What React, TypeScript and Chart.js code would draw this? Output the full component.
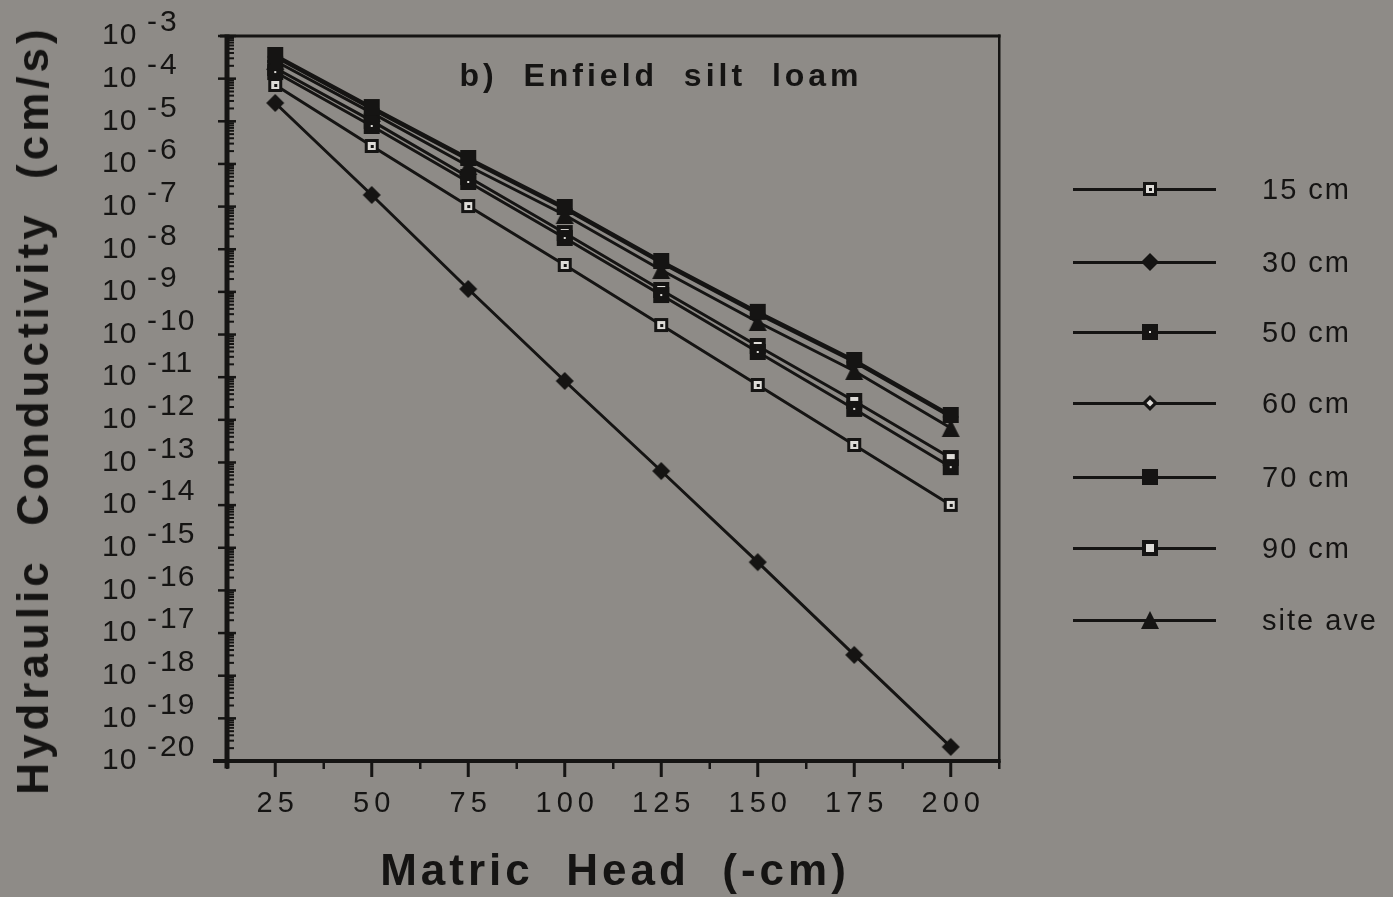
import React, { useEffect, useMemo, useRef } from "react";
import { Chart, registerables } from "chart.js";

Chart.register(...registerables);

// ---------------- data ----------------
const matricHead = [25, 50, 75, 100, 125, 150, 175, 200];
const k15cm = [7.1e-5, 2.64e-6, 1.03e-7, 4.28e-9, 1.67e-10, 6.56e-12, 2.57e-13, 1.01e-14];
const k30cm = [2.69e-5, 1.87e-7, 1.17e-9, 8.15e-12, 6.3e-14, 4.6e-16, 3.07e-18, 2.14e-20];
const k50cm = [1.43e-4, 7.76e-6, 3.78e-7, 1.84e-8, 8.45e-10, 3.9e-11, 1.8e-12, 7.8e-14];
const k60cm = [3.25e-4, 1.95e-5, 1.24e-6, 8.8e-8, 4.8e-9, 3.05e-10, 2.27e-11, 1.17e-12];
const k70cm = [3.59e-4, 2.16e-5, 1.38e-6, 9.8e-8, 5.3e-9, 3.4e-10, 2.53e-11, 1.3e-12];
const k90cm = [1.78e-4, 1.02e-5, 4.94e-7, 2.4e-8, 1.11e-9, 5.4e-11, 2.77e-12, 1.27e-13];
const kSiteAve = [2.59e-4, 1.57e-5, 8.95e-7, 6.35e-8, 3.26e-9, 1.97e-10, 1.4e-11, 6.44e-13];

const seriesLabels = ["15 cm", "30 cm", "50 cm", "60 cm", "70 cm", "90 cm", "site ave"];
const seriesMarkers = ["dotSquare", "diamond", "solidDotSquare", "openDiamond", "solidSquare", "openSquare", "triangle"];
const seriesOrder = [3, 6, 4, 2, 0, 5, 1];

const xTickLabels = [25, 50, 75, 100, 125, 150, 175, 200];
const yDecadeExponents = [-3, -4, -5, -6, -7, -8, -9, -10, -11, -12, -13, -14, -15, -16, -17, -18, -19, -20];

const title = "b)  Enfield  silt  loam";
const xTitle = "Matric  Head  (-cm)";
const yTitle = "Hydraulic  Conductivity  (cm/s)";

// ---------------- style ----------------
const BG = "#8e8b87";
const INK = "#151413";
const LIGHT = "#dedcd8";
const FONT = "'Liberation Sans', Arial, Helvetica, sans-serif";

function makeMarker(kind: string): HTMLCanvasElement {
  const c = document.createElement("canvas");
  c.width = 20;
  c.height = 20;
  const g = c.getContext("2d")!;
  g.fillStyle = INK;
  const diamond = (cx: number, cy: number, r: number) => {
    g.beginPath();
    g.moveTo(cx, cy - r);
    g.lineTo(cx + r, cy);
    g.lineTo(cx, cy + r);
    g.lineTo(cx - r, cy);
    g.closePath();
    g.fill();
  };
  switch (kind) {
    case "dotSquare":
      g.fillRect(3, 3, 14, 14);
      g.fillStyle = LIGHT;
      g.fillRect(6, 6, 8, 8);
      g.fillStyle = INK;
      g.fillRect(9, 9, 3, 3);
      break;
    case "diamond":
      diamond(10, 10, 9);
      break;
    case "solidDotSquare":
      g.fillRect(2, 2, 16, 16);
      g.fillStyle = LIGHT;
      g.fillRect(9, 9, 2, 2);
      break;
    case "openDiamond":
      diamond(10, 10, 8);
      g.fillStyle = LIGHT;
      diamond(10, 10, 3.5);
      break;
    case "solidSquare":
      g.fillRect(2, 2, 16, 16);
      break;
    case "openSquare":
      g.fillRect(2, 2, 16, 16);
      g.fillStyle = LIGHT;
      g.fillRect(6, 6, 8, 8);
      break;
    case "triangle":
      g.beginPath();
      g.moveTo(10, 1);
      g.lineTo(19, 19);
      g.lineTo(1, 19);
      g.closePath();
      g.fill();
      break;
  }
  return c;
}

const framePlugin = {
  id: "framePlugin",
  beforeDatasetsDraw(chart: any) {
    const { ctx, chartArea: a, scales } = chart;
    const x = scales.x;
    const y = scales.y;
    ctx.save();
    ctx.fillStyle = INK;
    // frame
    ctx.fillRect(a.left - 7, a.top - 1.5, a.right - a.left + 8.5, 3);
    ctx.fillRect(a.right - 1, a.top - 1.5, 2.5, a.bottom - a.top + 3);
    ctx.fillRect(a.left - 14, a.bottom - 2, a.right - a.left + 15.5, 4);
    ctx.fillRect(a.left - 2.5, a.top - 1.5, 5, a.bottom - a.top + 9);

    // x ticks (major at labels, minor between)
    const step = xTickLabels[1] - xTickLabels[0];
    for (let v = xTickLabels[0] - step / 2; v <= xTickLabels[xTickLabels.length - 1] + step / 2 + 0.01; v += step / 2) {
      const px = x.getPixelForValue(v);
      const major = xTickLabels.includes(v);
      if (major) ctx.fillRect(px - 1.5, a.bottom, 3, 16);
      else ctx.fillRect(px - 1, a.bottom, 2.5, 8);
    }
    // y ticks
    for (const e of yDecadeExponents) {
      const py = y.getPixelForValue(Math.pow(10, e));
      ctx.fillRect(a.left - 9, py - 1.25, 18, 2.5);
      if (e > yDecadeExponents[yDecadeExponents.length - 1]) {
        for (let m = 2; m <= 9; m++) {
          const pm = y.getPixelForValue(m * Math.pow(10, e - 1));
          ctx.fillRect(a.left, pm - 1, 7, 2);
        }
      }
    }

    // x tick labels
    ctx.font = `29px ${FONT}`;
    (ctx as any).letterSpacing = "5px";
    ctx.textAlign = "center";
    ctx.textBaseline = "middle";
    for (const v of xTickLabels) {
      ctx.fillText(String(v), x.getPixelForValue(v) + 2.5, a.bottom + 43);
    }
    // y tick labels: 10 with raised exponent
    ctx.font = `30px ${FONT}`;
    (ctx as any).letterSpacing = "1px";
    ctx.textAlign = "left";
    for (const e of yDecadeExponents) {
      const py = y.getPixelForValue(Math.pow(10, e));
      ctx.fillText("10", 102, py);
      ctx.fillText("-", 147, py - 13);
      ctx.fillText(String(-e), 160, py - 13);
    }
    ctx.restore();
  },
};

export default function App() {
  const canvasRef = useRef<HTMLCanvasElement | null>(null);
  const markerUrls = useMemo(() => seriesMarkers.map((m) => makeMarker(m).toDataURL()), []);

  useEffect(() => {
    document.body.style.margin = "0";
    document.body.style.background = BG;
    const canvas = canvasRef.current!;
    const allSeries = [k15cm, k30cm, k50cm, k60cm, k70cm, k90cm, kSiteAve];
    const chart = new Chart(canvas, {
      type: "line",
      data: {
        datasets: allSeries.map((vals, i) => ({
          label: seriesLabels[i],
          data: vals.map((v, j) => ({ x: matricHead[j], y: v })),
          borderColor: INK,
          backgroundColor: INK,
          borderWidth: 3,
          pointStyle: makeMarker(seriesMarkers[i]),
          pointRadius: 8,
          tension: 0,
          fill: false,
          order: seriesOrder[i],
        })),
      },
      options: {
        animation: false,
        responsive: false,
        layout: { padding: { left: 227, right: 394, top: 36, bottom: 136 } },
        plugins: { legend: { display: false }, tooltip: { enabled: false } },
        scales: {
          x: { type: "linear", min: 12.5, max: 212.5, display: false },
          y: { type: "logarithmic", min: 1e-20, max: 1e-3, display: false },
        },
      },
      plugins: [framePlugin],
    } as any);
    return () => chart.destroy();
  }, []);

  const legendRows = [189, 262, 332, 403, 477, 548, 620];

  return (
    <div
      style={{
        position: "absolute",
        left: 0,
        top: 0,
        width: 1393,
        height: 897,
        background: BG,
        overflow: "hidden",
        fontFamily: FONT,
        color: INK,
      }}
    >
      <canvas ref={canvasRef} width={1393} height={897} style={{ position: "absolute", left: 0, top: 0, width: 1393, height: 897 }} />
      <div
        style={{
          position: "absolute",
          left: 661,
          top: 75,
          transform: "translate(-50%, -50%)",
          fontSize: 32,
          fontWeight: "bold",
          letterSpacing: 4,
          whiteSpace: "pre",
          lineHeight: 1,
        }}
      >
        {title}
      </div>
      <div
        style={{
          position: "absolute",
          left: 615,
          top: 870,
          transform: "translate(-50%, -50%)",
          fontSize: 44,
          fontWeight: "bold",
          letterSpacing: 4,
          whiteSpace: "pre",
          lineHeight: 1,
        }}
      >
        {xTitle}
      </div>
      <div
        style={{
          position: "absolute",
          left: 33,
          top: 410,
          transform: "translate(-50%, -50%) rotate(-90deg)",
          fontSize: 44,
          fontWeight: "bold",
          letterSpacing: 4,
          whiteSpace: "pre",
          lineHeight: 1,
        }}
      >
        {yTitle}
      </div>
      {seriesLabels.map((lab, i) => (
        <React.Fragment key={lab}>
          <div style={{ position: "absolute", left: 1073, top: legendRows[i] - 1.5, width: 143, height: 3, background: INK }} />
          <img src={markerUrls[i]} style={{ position: "absolute", left: 1140, top: legendRows[i] - 10, width: 20, height: 20 }} />
          <div
            style={{
              position: "absolute",
              left: 1262,
              top: legendRows[i],
              transform: "translateY(-50%)",
              fontSize: 29,
              letterSpacing: 2,
              whiteSpace: "pre",
              lineHeight: 1,
            }}
          >
            {lab}
          </div>
        </React.Fragment>
      ))}
    </div>
  );
}
